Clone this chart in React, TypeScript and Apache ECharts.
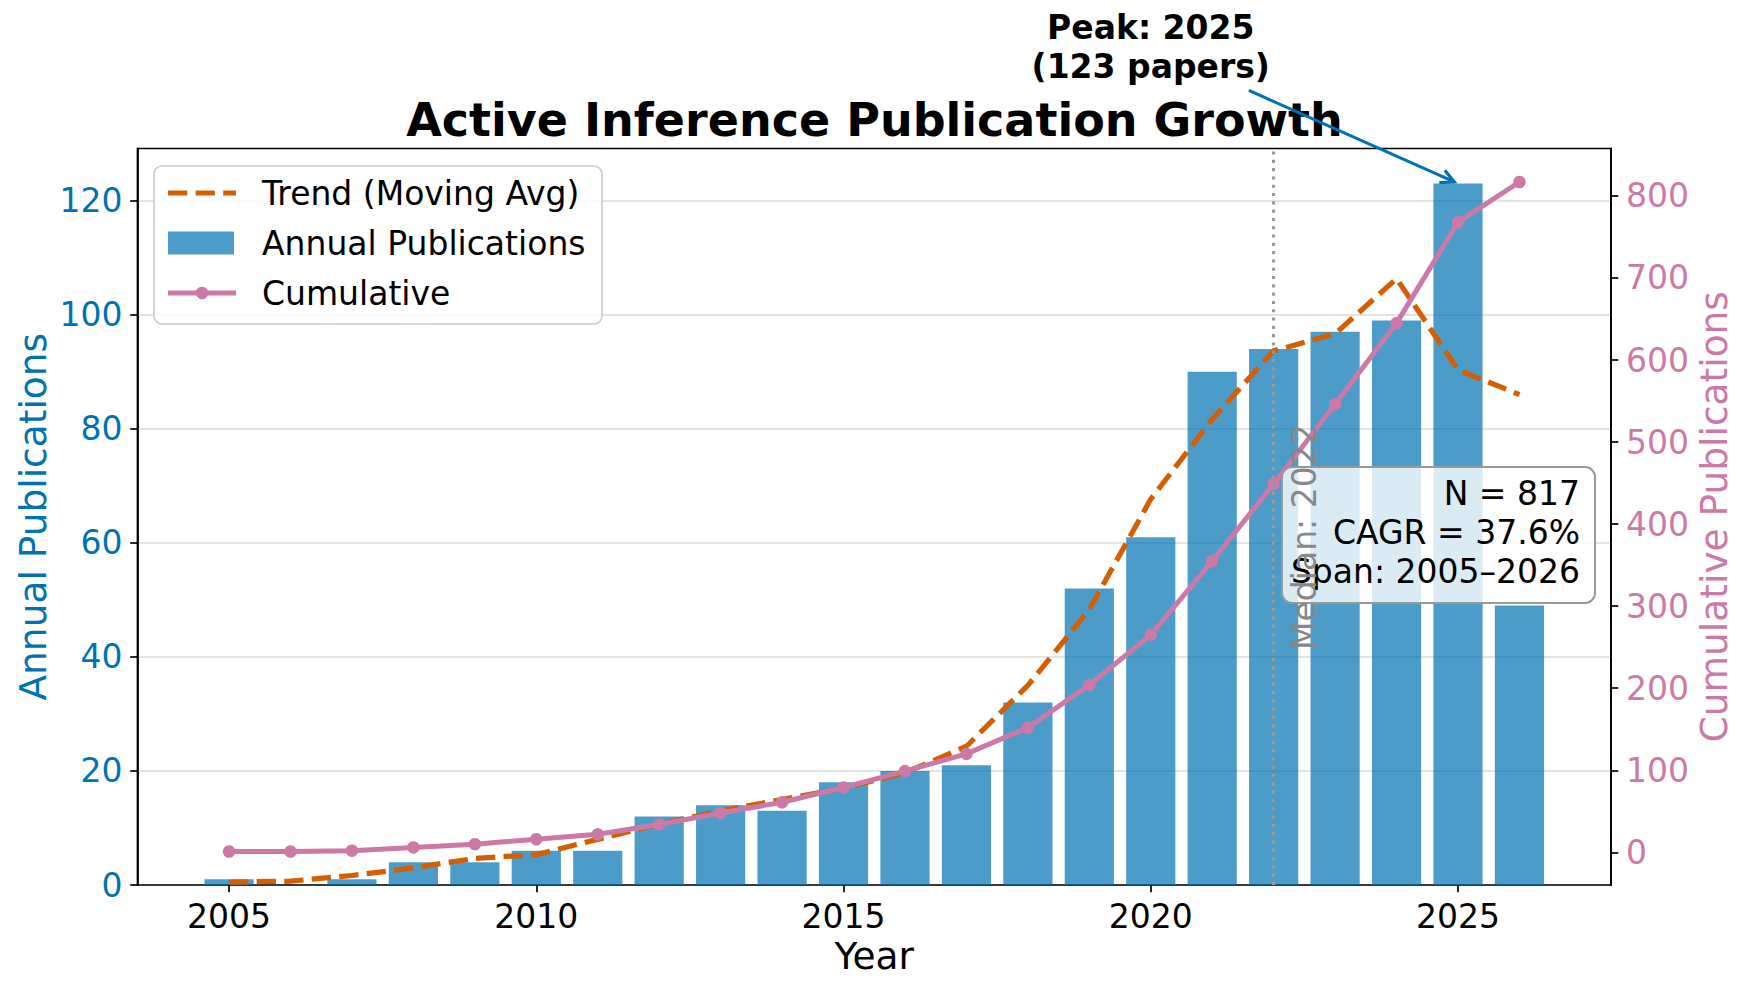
import React, { useEffect, useRef } from "react";
import * as echarts from "echarts";

// ---- data ----
const years = [2005, 2006, 2007, 2008, 2009, 2010, 2011, 2012, 2013, 2014, 2015, 2016, 2017, 2018, 2019, 2020, 2021, 2022, 2023, 2024, 2025, 2026];
const annualPublications = [1, 0, 1, 4, 4, 6, 6, 12, 14, 13, 18, 20, 21, 32, 52, 61, 90, 94, 97, 99, 123, 49];
const trendMovingAvg = [0.5, 0.67, 1.67, 3, 4.67, 5.33, 8, 10.67, 13, 15, 17, 19.67, 24.33, 35, 48.33, 67.67, 81.67, 93.67, 96.67, 106.33, 90.33, 86];
const cumulativePublications = [1, 1, 2, 6, 10, 16, 22, 34, 48, 61, 79, 99, 120, 152, 204, 265, 355, 449, 546, 645, 768, 817];
const xTickValues = [2005, 2010, 2015, 2020, 2025];
const leftTickValues = [0, 20, 40, 60, 80, 100, 120];
const rightTickValues = [0, 100, 200, 300, 400, 500, 600, 700, 800];
const medianYear = 2022;
const peakYear = 2025;
const peakValue = 123;
const infoLines = ["N = 817", "CAGR = 37.6%", "Span: 2005–2026"];
const legendNames = ["Trend (Moving Avg)", "Annual Publications", "Cumulative"];

const FONT = "DejaVu Sans";
const BLUE = "#0072B2";
const ORANGE = "#D55E00";
const PINK = "#CC79A7";

export default function App() {
  const ref = useRef<HTMLDivElement>(null);

  useEffect(() => {
    document.body.style.margin = "0";
    const el = ref.current;
    if (!el) return;
    const chart = echarts.init(el, null, { renderer: "svg" });

    const option: any = {
      animation: false,
      backgroundColor: "#ffffff",
      textStyle: { fontFamily: FONT },
      title: {
        text: "Active Inference Publication Growth",
        left: "center",
        top: 120,
        textVerticalAlign: "middle",
        padding: 0,
        textStyle: { fontFamily: FONT, fontSize: 46, fontWeight: "bold", color: "#000" },
      },
      grid: {
        left: 137.5,
        right: 138,
        top: 148.5,
        bottom: 107,
        containLabel: false,
        outerBoundsMode: "none",
        show: true,
        borderColor: "#000",
        borderWidth: 1.7,
        backgroundColor: "transparent",
      },
      xAxis: [
        {
          type: "value",
          min: 2003.51,
          max: 2027.49,
          name: "Year",
          nameLocation: "middle",
          nameGap: 52,
          nameMoveOverlap: false,
          nameTextStyle: { fontFamily: FONT, fontSize: 37.5, color: "#000" },
          axisLine: { show: true, onZero: false, lineStyle: { color: "#000", width: 1.7 } },
          axisTick: { show: true, customValues: xTickValues, length: 7.3, lineStyle: { color: "#000", width: 1.7 } },
          axisLabel: {
            customValues: xTickValues,
            formatter: (v: number) => String(v),
            fontFamily: FONT,
            fontSize: 33,
            color: "#000",
            margin: 15,
          },
          splitLine: { show: false },
        },
      ],
      yAxis: [
        {
          type: "value",
          position: "left",
          min: 0,
          max: 129.15,
          interval: 20,
          name: "Annual Publications",
          nameLocation: "middle",
          nameRotate: 90,
          nameGap: 86,
          nameMoveOverlap: false,
          nameTextStyle: { fontFamily: FONT, fontSize: 37.5, color: BLUE },
          axisLine: { show: true, onZero: false, lineStyle: { color: "#000", width: 1.7 } },
          axisTick: { show: true, customValues: leftTickValues, length: 7.3, lineStyle: { color: "#000", width: 1.7 } },
          axisLabel: {
            customValues: leftTickValues,
            formatter: (v: number) => String(v),
            fontFamily: FONT,
            fontSize: 33,
            color: BLUE,
            margin: 15,
          },
          splitLine: { show: true, lineStyle: { color: "#e3e3e3", width: 1.8 } },
        },
        {
          type: "value",
          position: "right",
          min: -39.8,
          max: 857.8,
          name: "Cumulative Publications",
          nameLocation: "middle",
          nameRotate: 90,
          nameGap: 84,
          nameMoveOverlap: false,
          nameTextStyle: { fontFamily: FONT, fontSize: 37.5, color: PINK },
          axisLine: { show: true, onZero: false, lineStyle: { color: "#000", width: 1.7 } },
          axisTick: { show: true, customValues: rightTickValues, length: 7.3, lineStyle: { color: "#000", width: 1.7 } },
          axisLabel: {
            customValues: rightTickValues,
            formatter: (v: number) => String(v),
            fontFamily: FONT,
            fontSize: 33,
            color: PINK,
            margin: 15,
          },
          splitLine: { show: false },
        },
      ],
      series: [
        {
          name: legendNames[1],
          type: "bar",
          xAxisIndex: 0,
          yAxisIndex: 0,
          barWidth: 49.2,
          data: years.map((y, i) => [y, annualPublications[i]]),
          itemStyle: { color: BLUE, opacity: 0.7 },
          z: 2,
          markLine: {
            silent: true,
            symbol: ["none", "none"],
            label: { show: false },
            lineStyle: { color: "#9a9a9a", width: 3.1, type: [3.1, 5.2] },
            data: [{ xAxis: medianYear }],
          },
        },
        {
          name: legendNames[0],
          type: "line",
          xAxisIndex: 0,
          yAxisIndex: 0,
          data: years.map((y, i) => [y, trendMovingAvg[i]]),
          symbol: "none",
          showSymbol: false,
          lineStyle: { color: ORANGE, width: 5.2, type: [19.3, 8.3] },
          itemStyle: { color: ORANGE },
          z: 3,
        },
        {
          name: legendNames[2],
          type: "line",
          xAxisIndex: 0,
          yAxisIndex: 1,
          data: years.map((y, i) => [y, cumulativePublications[i]]),
          symbol: "circle",
          symbolSize: 12.5,
          showSymbol: true,
          lineStyle: { color: PINK, width: 5 },
          itemStyle: { color: PINK },
          z: 4,
        },
      ],
    };

    chart.setOption(option);

    const px = (x: number, y: number) =>
      chart.convertToPixel({ xAxisIndex: 0, yAxisIndex: 0 }, [x, y]) as number[];

    // annotation arrow geometry
    const [tx, ty] = px(2020, 147);
    const [ax, ay] = px(peakYear, peakValue);
    const dx = ax - tx;
    const dy = ay - ty;
    const len = Math.hypot(dx, dy);
    const ux = dx / len;
    const uy = dy / len;
    const tStart = 43.7 / uy;
    const sx = tx + ux * tStart;
    const sy = ty + uy * tStart;
    const ex = ax - ux * 4;
    const ey = ay - uy * 4;
    const th = (26.7 * Math.PI) / 180;
    const wl = 15;
    const rot = (a: number) => [
      ex + wl * (-ux * Math.cos(a) + uy * Math.sin(a)),
      ey + wl * (-uy * Math.cos(a) - ux * Math.sin(a)),
    ];
    const w1 = rot(th);
    const w2 = rot(-th);

    const [mx, my] = px(medianYear + 0.5, 61);

    const textBase = { fontFamily: FONT, fontSize: 33, fill: "#000" };
    const rowY = [193, 243, 293];

    const graphic: any[] = [
      // legend
      {
        type: "rect",
        z: 100,
        shape: { x: 154, y: 166, width: 448, height: 158, r: 8 },
        style: { fill: "rgba(255,255,255,0.8)", stroke: "#cccccc", lineWidth: 1.7 },
      },
      {
        type: "line",
        z: 101,
        shape: { x1: 168, y1: rowY[0], x2: 236, y2: rowY[0] },
        style: { stroke: ORANGE, lineWidth: 5.2, lineDash: [19.3, 8.3] },
      },
      {
        type: "rect",
        z: 101,
        shape: { x: 168, y: rowY[1] - 11.5, width: 66, height: 23 },
        style: { fill: BLUE, opacity: 0.7 },
      },
      {
        type: "line",
        z: 101,
        shape: { x1: 168, y1: rowY[2], x2: 236, y2: rowY[2] },
        style: { stroke: PINK, lineWidth: 5 },
      },
      {
        type: "circle",
        z: 102,
        shape: { cx: 202, cy: rowY[2], r: 6.25 },
        style: { fill: PINK },
      },
      ...legendNames.map((n, i) => ({
        type: "text",
        z: 102,
        style: { ...textBase, text: n, x: 262, y: rowY[i], align: "left", verticalAlign: "middle" },
      })),
      // info box
      {
        type: "rect",
        z: 100,
        shape: { x: 1282, y: 467, width: 313, height: 136, r: 10 },
        style: { fill: "rgba(255,255,255,0.8)", stroke: "#999999", lineWidth: 2 },
      },
      ...infoLines.map((t, i) => ({
        type: "text",
        z: 102,
        style: { ...textBase, text: t, x: 1580, y: 493 + i * 39, align: "right", verticalAlign: "middle" },
      })),
      // median label
      {
        type: "text",
        z: 110,
        x: mx,
        y: my,
        rotation: Math.PI / 2,
        style: { ...textBase, fill: "#888888", text: "Median: " + medianYear, x: 0, y: 0, align: "center", verticalAlign: "middle" },
      },
      // peak annotation
      {
        type: "text",
        z: 110,
        style: {
          fontFamily: FONT,
          fontSize: 33,
          fontWeight: "bold",
          fill: "#000",
          text: "Peak: " + peakYear + "\n(" + peakValue + " papers)",
          x: tx,
          y: ty,
          align: "center",
          verticalAlign: "middle",
          lineHeight: 39,
        },
      },
      {
        type: "line",
        z: 110,
        shape: { x1: sx, y1: sy, x2: ex, y2: ey },
        style: { stroke: BLUE, lineWidth: 3.1 },
      },
      {
        type: "polyline",
        z: 110,
        shape: { points: [w1, [ex, ey], w2] },
        style: { stroke: BLUE, lineWidth: 3.1, fill: "none" },
      },
    ];

    chart.setOption({ graphic });

    return () => {
      chart.dispose();
    };
  }, []);

  return <div ref={ref} style={{ width: 1749, height: 992 }} />;
}
